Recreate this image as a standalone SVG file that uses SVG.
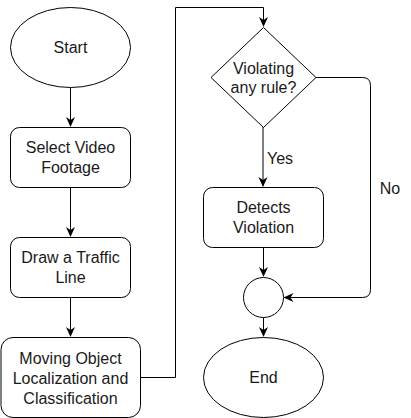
<svg xmlns="http://www.w3.org/2000/svg" width="411" height="418" viewBox="0 0 411 418">
<defs>
<marker id="arr" viewBox="0 0 10 10" refX="9" refY="5" markerWidth="10" markerHeight="10" markerUnits="userSpaceOnUse" orient="auto">
<path d="M0,0.5 L10,5 L0,9.5 L3,5 Z" fill="#000"/>
</marker>
<style>
.s{fill:#fff;stroke:#000;stroke-width:1}
.t{font-family:"Liberation Sans",Arial,sans-serif;font-size:16px;fill:#1a1a1a;text-anchor:middle}
.c{fill:none;stroke:#000;stroke-width:1}
</style>
</defs>
<rect width="411" height="418" fill="#fff"/>
<g id="connectors">
<path class="c" d="M70.5,87.5 V126" marker-end="url(#arr)"/>
<path class="c" d="M70.5,187.5 V236" marker-end="url(#arr)"/>
<path class="c" d="M70.5,297.5 V336" marker-end="url(#arr)"/>
<path class="c" d="M140.5,377.5 H175.5 V7.5 H263.5 V26" marker-end="url(#arr)"/>
<path class="c" d="M263,127 V186" stroke="#444" marker-end="url(#arr)"/>
<path class="c" d="M263.5,247.5 V276" marker-end="url(#arr)"/>
<path class="c" d="M263.5,317.5 V336" marker-end="url(#arr)"/>
<path class="c" d="M316,77.5 H362.5 Q370.5,77.5 370.5,85.5 V289.5 Q370.5,297.5 362.5,297.5 H284.5" marker-end="url(#arr)"/>
<text class="t" x="280" y="164">Yes</text>
<text class="t" x="390" y="194">No</text>
</g>
<g id="start">
<ellipse class="s" cx="70.5" cy="47.5" rx="60" ry="40"/>
<text class="t" x="70.5" y="53">Start</text>
</g>
<g id="select">
<rect class="s" x="10.5" y="127.5" width="120" height="60" rx="9"/>
<text class="t" x="70.5" y="153">Select Video</text>
<text class="t" x="70.5" y="173">Footage</text>
</g>
<g id="draw">
<rect class="s" x="10.5" y="237.5" width="120" height="60" rx="9"/>
<text class="t" x="70.5" y="263">Draw a Traffic</text>
<text class="t" x="70.5" y="283">Line</text>
</g>
<g id="moving">
<rect class="s" x="1" y="337.5" width="139.5" height="80" rx="12"/>
<text class="t" x="70.5" y="363.5">Moving Object</text>
<text class="t" x="70.5" y="383.5">Localization and</text>
<text class="t" x="70.5" y="403.5">Classification</text>
</g>
<g id="decision">
<path class="s" d="M263.5,27.5 L316,77.5 L263.5,127.5 L211,77.5 Z"/>
<text class="t" x="263.5" y="73.5">Violating</text>
<text class="t" x="263.5" y="93">any rule?</text>
</g>
<g id="detects">
<rect class="s" x="203.5" y="187.5" width="120" height="60" rx="9"/>
<text class="t" x="263.5" y="213">Detects</text>
<text class="t" x="263.5" y="233">Violation</text>
</g>
<g id="merge">
<circle class="s" cx="263.5" cy="297.5" r="20"/>
</g>
<g id="end">
<ellipse class="s" cx="263.5" cy="377.5" rx="60" ry="40"/>
<text class="t" x="263.5" y="383">End</text>
</g>
</svg>
